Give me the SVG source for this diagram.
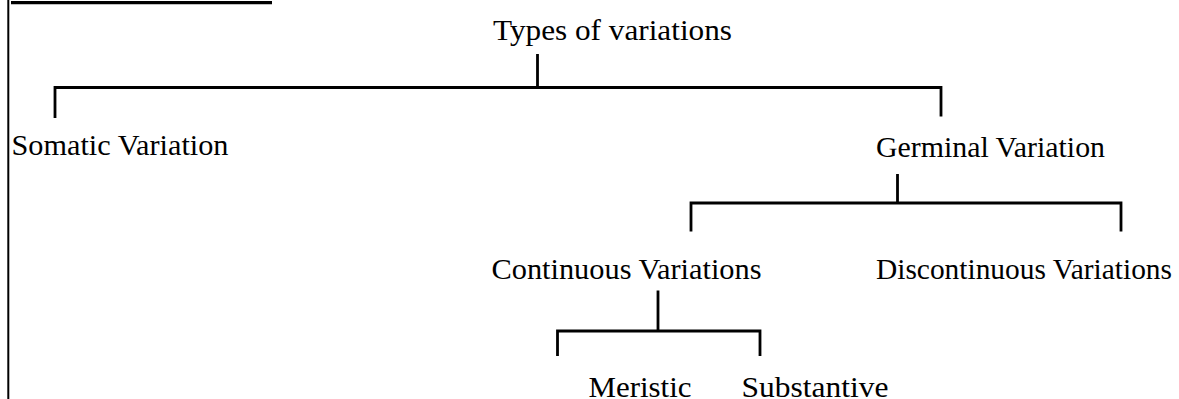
<svg xmlns="http://www.w3.org/2000/svg" width="1179" height="399" viewBox="0 0 1179 399">
  <style>
    .label { font-family: "Liberation Serif", "Times New Roman", serif; font-size: 30px; fill: #000; }
    .link { stroke: #000; stroke-width: 2.8; fill: none; stroke-linecap: butt; }
  </style>
  <rect width="1179" height="399" fill="#fff"/>

  <!-- page frame: left rule and heading underline -->
  <g id="frame">
    <line x1="8.3" y1="0" x2="8.3" y2="399" stroke="#000" stroke-width="2"/>
    <line x1="11" y1="2.7" x2="272" y2="2.7" stroke="#000" stroke-width="3.2"/>
  </g>

  <!-- tree connectors -->
  <g id="connectors">
    <path class="link" d="M537.5 54 V87.5 M55 118 V87.5 H941 V116.5"/>
    <path class="link" d="M897.5 174 V203 M691 231.5 V203 H1121 V231.5"/>
    <path class="link" d="M658 290.5 V331 M557.5 356 V331 H760 V356"/>
  </g>

  <g id="node-types"><text class="label" x="493" y="39.5" textLength="239" lengthAdjust="spacingAndGlyphs">Types of variations</text></g>
  <g id="node-somatic"><text class="label" x="11.5" y="154.5" textLength="217" lengthAdjust="spacingAndGlyphs">Somatic Variation</text></g>
  <g id="node-germinal"><text class="label" x="876" y="157" textLength="229" lengthAdjust="spacingAndGlyphs">Germinal Variation</text></g>
  <g id="node-continuous"><text class="label" x="491.5" y="279" textLength="270" lengthAdjust="spacingAndGlyphs">Continuous Variations</text></g>
  <g id="node-discontinuous"><text class="label" x="876" y="279" textLength="296" lengthAdjust="spacingAndGlyphs">Discontinuous Variations</text></g>
  <g id="node-meristic"><text class="label" x="588.5" y="396.5" textLength="103" lengthAdjust="spacingAndGlyphs">Meristic</text></g>
  <g id="node-substantive"><text class="label" x="741.5" y="396.5" textLength="147" lengthAdjust="spacingAndGlyphs">Substantive</text></g>
</svg>
